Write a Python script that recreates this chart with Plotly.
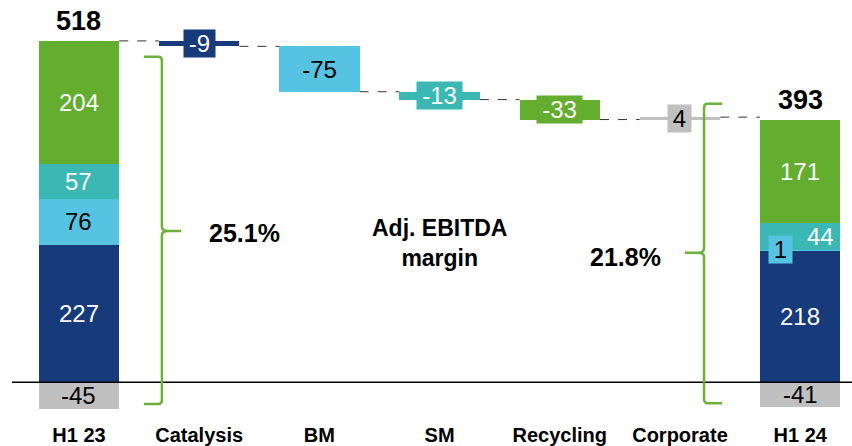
import plotly.graph_objects as go

# ---- data -------------------------------------------------------------
categories = ["H1 23", "Catalysis", "BM", "SM", "Recycling", "Corporate", "H1 24"]

# stacked segments of the two period totals (bottom to top)
seg_names = ["Catalysis", "BM", "SM", "Recycling"]
seg_h1_23 = [227, 76, 57, 204]
seg_h1_24 = [218, 1, 44, 171]
corp_h1_23 = -45
corp_h1_24 = -41
total_h1_23 = 518
total_h1_24 = 393

# bridge deltas
delta_labels = ["Catalysis", "BM", "SM", "Recycling", "Corporate"]
delta_values = [-9, -75, -13, -33, 4]

margin_h1_23 = "25.1%"
margin_h1_24 = "21.8%"

# ---- styling ----------------------------------------------------------
DARK = "#173A7A"
LIGHT = "#57C3E2"
TEAL = "#3BB8B4"
GREEN = "#63AD2F"
GREY = "#C0C0C0"
BRACE = "#6AB23A"
FONT = "Liberation Sans, Arial, sans-serif"
VAL_SIZE = 24

seg_colors = [DARK, LIGHT, TEAL, GREEN]
seg_text_colors = ["white", "black", "white", "white"]
delta_colors = [DARK, LIGHT, TEAL, GREEN, GREY]
delta_text_colors = ["white", "black", "white", "white", "black"]

W = 0.67
x_idx = list(range(len(categories)))


def box_width(txt, size=VAL_SIZE, pad=10):
    """Approximate Arial width of a numeric label plus side padding."""
    em = sum(0.333 if ch == "-" else 0.556 for ch in txt)
    return round(em * size + pad)


fig = go.Figure()
annotations = []
shapes = []

# stacked totals
base23 = 0
base24 = 0
for name, v23, v24, col in zip(seg_names, seg_h1_23, seg_h1_24, seg_colors):
    fig.add_trace(go.Bar(x=[0, 6], y=[v23, v24], base=[base23, base24],
                         marker=dict(color=col, line=dict(width=0)),
                         width=W, name=name, showlegend=False, hoverinfo="skip"))
    base23 += v23
    base24 += v24

fig.add_trace(go.Bar(x=[0, 6], y=[corp_h1_23, corp_h1_24], base=[0, 0],
                     marker=dict(color=GREY, line=dict(width=0)),
                     width=W, name="Corporate", showlegend=False, hoverinfo="skip"))

top23 = sum(seg_h1_23)
top24 = sum(seg_h1_24)


def seg_mids(segs):
    b = 0
    out = []
    for v in segs:
        out.append((b + v / 2, v))
        b += v
    return out


for (ymid, v), tc in zip(seg_mids(seg_h1_23), seg_text_colors):
    annotations.append(dict(x=0, y=ymid, text=str(v), showarrow=False,
                            font=dict(size=VAL_SIZE, color=tc, family=FONT)))
for i, ((ymid, v), tc) in enumerate(zip(seg_mids(seg_h1_24), seg_text_colors)):
    a = dict(x=6, y=ymid, text=str(v), showarrow=False,
             font=dict(size=VAL_SIZE, color=tc, family=FONT))
    if i == 1:   # tiny segment: boxed label to the left
        a.update(y=seg_h1_24[0] + 0.5, xshift=-20, bgcolor=LIGHT, borderpad=0,
                 width=box_width(str(v)))
    if i == 2:
        a.update(xshift=20)
    annotations.append(a)

annotations.append(dict(x=0, y=corp_h1_23 / 2, text=str(corp_h1_23), showarrow=False,
                        font=dict(size=VAL_SIZE, color="black", family=FONT)))
annotations.append(dict(x=6, y=corp_h1_24 / 2, text=str(corp_h1_24), showarrow=False,
                        font=dict(size=VAL_SIZE, color="black", family=FONT)))

# totals on top
annotations.append(dict(x=0, y=top23, yanchor="bottom", yshift=3, text=f"<b>{total_h1_23}</b>",
                        showarrow=False, font=dict(size=27, color="black", family=FONT)))
annotations.append(dict(x=6, y=top24, yanchor="bottom", yshift=3, text=f"<b>{total_h1_24}</b>",
                        showarrow=False, font=dict(size=27, color="black", family=FONT)))

# bridge bars
level = top23
bases = []
for d in delta_values:
    bases.append(level)
    level += d

fig.add_trace(go.Bar(x=x_idx[1:6], y=delta_values, base=bases,
                     marker=dict(color=delta_colors, line=dict(width=0)),
                     width=W, showlegend=False, hoverinfo="skip"))

for i, (d, b, col, tc) in enumerate(zip(delta_values, bases, delta_colors, delta_text_colors)):
    annotations.append(dict(x=i + 1, y=b + d / 2, text=str(d), showarrow=False,
                            bgcolor=col, borderpad=0, width=box_width(str(d)),
                            font=dict(size=VAL_SIZE, color=tc, family=FONT)))

# dashed connectors
conn_levels = [top23] + [b + d for b, d in zip(bases, delta_values)]
for i, lv in enumerate(conn_levels):
    shapes.append(dict(type="line", xref="x", yref="y",
                       x0=i + W / 2, x1=i + 1 - W / 2, y0=lv, y1=lv,
                       line=dict(color="#333333", width=1, dash="dash")))

# zero line
shapes.append(dict(type="line", xref="paper", yref="y", x0=0, x1=1, y0=0, y1=0,
                   line=dict(color="black", width=1.5)))

# braces around the period totals
shapes.append(dict(type="path", xref="x", yref="y",
                   path=("M 0.54,538 L 0.66,538 Q 0.69,538 0.69,531 L 0.69,257 Q 0.69,250 0.74,250 "
                         "L 0.85,250 M 0.74,250 Q 0.69,250 0.69,243 L 0.69,-29 Q 0.69,-36 0.66,-36 L 0.54,-36"),
                   line=dict(color=BRACE, width=2.5)))
shapes.append(dict(type="path", xref="x", yref="y",
                   path=("M 5.35,460 L 5.23,460 Q 5.2,460 5.2,453 L 5.2,221 Q 5.2,214 5.15,214 "
                         "L 5.04,214 M 5.15,214 Q 5.2,214 5.2,207 L 5.2,-28 Q 5.2,-35 5.23,-35 L 5.35,-35"),
                   line=dict(color=BRACE, width=2.5)))

# margin texts
annotations.append(dict(x=1.38, y=247, text=f"<b>{margin_h1_23}</b>", showarrow=False,
                        font=dict(size=25, color="black", family=FONT)))
annotations.append(dict(x=3.0, y=230, text="<b>Adj. EBITDA<br>margin</b>", showarrow=False,
                        font=dict(size=23, color="black", family=FONT)))
annotations.append(dict(x=4.55, y=207, text=f"<b>{margin_h1_24}</b>", showarrow=False,
                        font=dict(size=25, color="black", family=FONT)))

fig.update_layout(
    width=852, height=446,
    margin=dict(l=12, r=0, t=0, b=31),
    plot_bgcolor="white", paper_bgcolor="white",
    barmode="overlay", bargap=0,
    shapes=shapes, annotations=annotations,
    showlegend=False,
    xaxis=dict(range=[-0.557, 6.431], tickmode="array", tickvals=x_idx,
               ticktext=[f"<b>{c}</b>" for c in categories],
               tickfont=dict(size=20, color="black", family=FONT),
               showgrid=False, zeroline=False, showline=False,
               ticks="outside", ticklen=4, tickcolor="rgba(0,0,0,0)"),
    yaxis=dict(range=[-51, 631.6], visible=False, showgrid=False, zeroline=False),
)

fig.write_html("out.html")
